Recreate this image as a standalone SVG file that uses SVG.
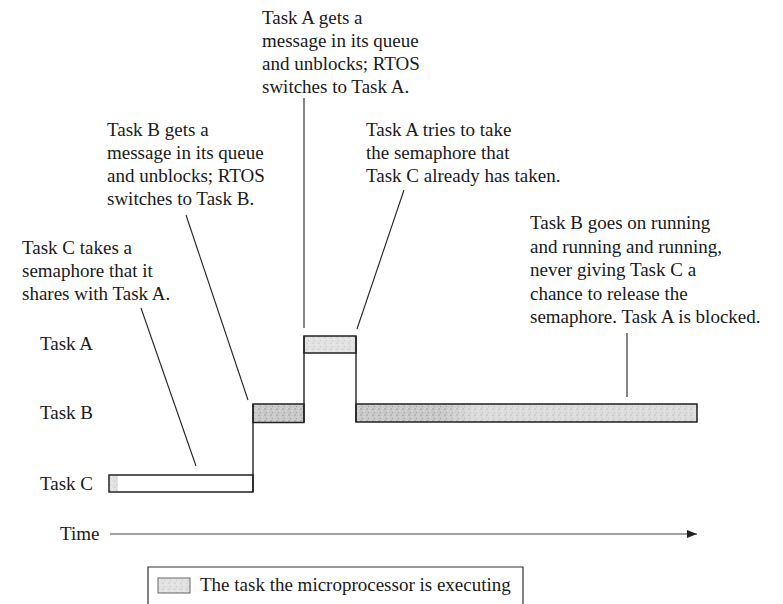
<svg xmlns="http://www.w3.org/2000/svg" width="783" height="604" viewBox="0 0 783 604">
  <defs>
    <style>
      text { font-family: "Liberation Serif", "Times New Roman", serif; font-size: 19px; fill: #1a1a1a; }
      .bar { stroke: #222; stroke-width: 1.5; }
      .edge { stroke: #222; stroke-width: 1.4; fill: none; }
      .lead { stroke: #222; stroke-width: 1.1; fill: none; }
      .axis { stroke: #444; stroke-width: 1.2; fill: none; }
    </style>
    <!-- speckled grey used for running tasks -->
    <pattern id="grain" width="6" height="6" patternUnits="userSpaceOnUse">
      <rect width="6" height="6" fill="#c9c9c9"/>
      <circle cx="1" cy="1" r="0.7" fill="#8e8e8e"/>
      <circle cx="4" cy="3" r="0.6" fill="#f2f2f2"/>
      <circle cx="2.5" cy="4.5" r="0.6" fill="#9a9a9a"/>
      <circle cx="5" cy="0.5" r="0.5" fill="#ececec"/>
    </pattern>
    <pattern id="grainLight" width="6" height="6" patternUnits="userSpaceOnUse">
      <rect width="6" height="6" fill="#e2e2e2"/>
      <circle cx="1" cy="1" r="0.6" fill="#b4b4b4"/>
      <circle cx="4" cy="3" r="0.6" fill="#ffffff"/>
      <circle cx="2.5" cy="4.5" r="0.5" fill="#bcbcbc"/>
    </pattern>
    <linearGradient id="fade" x1="0" x2="1" y1="0" y2="0">
      <stop offset="0" stop-color="#ffffff" stop-opacity="0"/>
      <stop offset="0.25" stop-color="#ffffff" stop-opacity="0"/>
      <stop offset="0.35" stop-color="#ffffff" stop-opacity="0.35"/>
      <stop offset="1" stop-color="#ffffff" stop-opacity="0.35"/>
    </linearGradient>
    <marker id="arrow" viewBox="0 0 10 8" refX="10" refY="4" markerWidth="10" markerHeight="8" markerUnits="userSpaceOnUse" orient="auto">
      <path d="M0,0 L10,4 L0,8 Z" fill="#222"/>
    </marker>
  </defs>

  <rect width="783" height="604" fill="#ffffff"/>

  <!-- callout notes -->
  <g id="note-task-a-unblocks">
    <text x="262" y="24">Task A gets a</text>
    <text x="262" y="47">message in its queue</text>
    <text x="262" y="70">and unblocks; RTOS</text>
    <text x="262" y="93">switches to Task A.</text>
  </g>
  <g id="note-task-b-unblocks">
    <text x="107" y="136">Task B gets a</text>
    <text x="107" y="159">message in its queue</text>
    <text x="107" y="182">and unblocks; RTOS</text>
    <text x="107" y="205">switches to Task B.</text>
  </g>
  <g id="note-task-a-blocks">
    <text x="366" y="136">Task A tries to take</text>
    <text x="366" y="159">the semaphore that</text>
    <text x="366" y="182">Task C already has taken.</text>
  </g>
  <g id="note-task-c-takes">
    <text x="22" y="254">Task C takes a</text>
    <text x="22" y="277">semaphore that it</text>
    <text x="22" y="300">shares with Task A.</text>
  </g>
  <g id="note-task-b-runs">
    <text x="530" y="229">Task B goes on running</text>
    <text x="530" y="252.5">and running and running,</text>
    <text x="530" y="276">never giving Task C a</text>
    <text x="530" y="299.5">chance to release the</text>
    <text x="530" y="323">semaphore. Task A is blocked.</text>
  </g>

  <!-- row labels -->
  <g id="row-labels">
    <text x="40" y="350">Task A</text>
    <text x="40" y="419">Task B</text>
    <text x="40" y="490">Task C</text>
    <text x="60" y="540">Time</text>
  </g>

  <!-- execution timeline -->
  <g id="task-c-run">
    <rect class="bar" x="109" y="475" width="144" height="17" fill="#ffffff"/>
    <rect x="110" y="476" width="8" height="15" fill="url(#grainLight)"/>
  </g>
  <g id="task-b-run-1">
    <rect class="bar" x="253" y="404" width="51" height="18.5" fill="url(#grain)"/>
  </g>
  <g id="task-a-run">
    <rect class="bar" x="304" y="336" width="52" height="17" fill="url(#grainLight)"/>
  </g>
  <g id="task-b-run-2">
    <rect class="bar" x="356" y="404" width="341" height="18" fill="url(#grain)"/>
    <rect x="357" y="405" width="339" height="16" fill="url(#fade)"/>
  </g>

  <!-- context switches and callout leaders -->
  <g id="connectors">
    <path class="edge" d="M253,404 V492"/>
    <path class="edge" d="M304,336 V422"/>
    <path class="edge" d="M356,336 V422"/>
    <path class="lead" d="M141,308 L196,466"/>
    <path class="lead" d="M186,215 L248,400"/>
    <path class="lead" d="M304,98 V328"/>
    <path class="lead" d="M404,190 L357,329"/>
    <path class="lead" d="M627,333 V397"/>
    <path class="axis" d="M110,534 H697" marker-end="url(#arrow)"/>
  </g>

  <!-- legend -->
  <g id="legend">
    <path d="M148,606 V567 H523 V606" fill="none" stroke="#333" stroke-width="1.2"/>
    <rect x="158" y="578" width="32" height="15" fill="url(#grainLight)" stroke="#666" stroke-width="1"/>
    <text x="200" y="591">The task the microprocessor is executing</text>
  </g>
</svg>
